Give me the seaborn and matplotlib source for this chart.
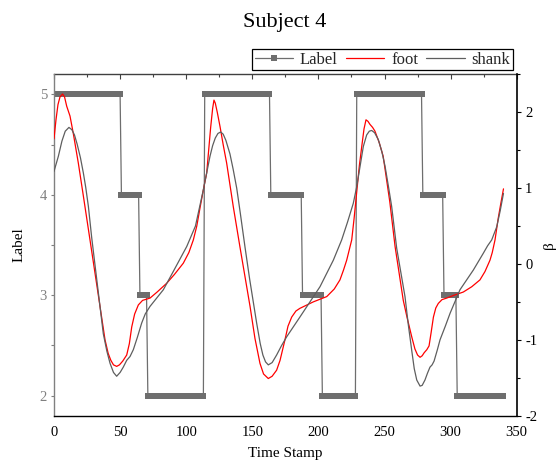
import numpy as np
import pandas as pd
import matplotlib
matplotlib.use("Agg")
import matplotlib.pyplot as plt
import seaborn as sns
from matplotlib.ticker import MultipleLocator

# ---- data ----
label_values = [5, 4, 3, 2, 5, 4, 3, 2, 5, 4, 3, 2]
label_starts = [0, 51, 65, 71, 114, 164, 188, 203, 229, 279, 295, 305]
label_ends = [50, 64, 70, 113, 163, 187, 202, 228, 278, 294, 304, 340]

foot_t = [0, 1.5, 3, 4.5, 6.5, 8, 9.6, 12.1, 14.6, 18.4, 22, 27.2, 33, 38.6, 41, 43, 45,
          47.4, 49.5, 52, 55, 57, 58.8, 61, 63.8, 67, 72.6, 78, 85.2, 91, 97.8, 102, 105.4,
          108, 110.4, 113, 115.5, 117, 118.5, 120, 121, 122, 123.5, 125.6, 128, 130.6,
          135.6, 140.7, 148.3, 152, 155.8, 158.5, 162.1, 165, 168.4, 171, 174.7, 177, 179.8,
          183, 186, 196.1, 206.3, 212, 216.3, 219, 221.4, 225.2, 227, 229, 231, 232.8, 234.5,
          236, 237.5, 239, 241, 242.8, 246, 249, 254, 258, 264.2, 267, 270.6, 273, 275,
          276.9, 278.5, 280, 282, 283.7, 285.3, 287, 288.8, 290.7, 293.5, 297, 303, 309.6,
          316, 322.2, 326, 329.8, 331.5, 333.6, 336, 338, 340]
foot_beta = [1.65, 1.9, 2.1, 2.2, 2.24, 2.2, 2.08, 1.95, 1.72, 1.33, 0.92, 0.32, -0.35,
             -1.0, -1.18, -1.27, -1.33, -1.35, -1.33, -1.28, -1.2, -1.05, -0.83, -0.66,
             -0.54, -0.48, -0.45, -0.37, -0.255, -0.14, 0.01, 0.15, 0.317, 0.5, 0.735, 0.98,
             1.2, 1.5, 1.8, 2.05, 2.16, 2.12, 2.0, 1.81, 1.57, 1.33, 0.757, 0.22, -0.56,
             -0.98, -1.31, -1.45, -1.51, -1.48, -1.40, -1.27, -1.0, -0.82, -0.70, -0.62,
             -0.585, -0.50, -0.43, -0.33, -0.21, -0.08, 0.05, 0.317, 0.6, 0.95, 1.3, 1.55,
             1.78, 1.90, 1.88, 1.84, 1.80, 1.75, 1.6, 1.42, 0.82, 0.23, -0.48, -0.7, -0.96,
             -1.12, -1.2, -1.23, -1.21, -1.17, -1.13, -1.08, -0.9, -0.70, -0.58, -0.52,
             -0.47, -0.45, -0.41, -0.37, -0.3, -0.21, -0.1, 0.05, 0.15, 0.317, 0.6, 0.8, 0.99]

shank_t = [0, 3.3, 6, 8.5, 11.3, 13.5, 15.5, 17.5, 20, 22.2, 24, 26, 28.5, 33, 37.3, 40,
           42.4, 45, 47.4, 50, 52.4, 55, 57.5, 60, 63, 66.3, 69, 72.6, 82.7, 90.2, 100.4,
           107, 113, 115.5, 118, 120, 122, 124, 126.1, 128, 130, 133.1, 135.5, 138.2, 141,
           144.5, 148, 153.3, 156, 158, 160, 162.1, 165, 168.4, 172, 176, 186, 193.6, 201.2,
           211.3, 217.6, 222, 226.4, 229, 234, 236.5, 238.5, 240.3, 242.5, 245.3, 248, 250.4,
           253, 255.4, 259.2, 265.5, 268, 270.6, 272.5, 274.4, 276.9, 278.5, 280.6, 282.5,
           284.4, 286, 287.5, 290, 292, 296, 299.6, 307.1, 317.2, 324.7, 328, 331.1, 334.9,
           337.5, 340]
shank_beta = [1.22, 1.42, 1.62, 1.75, 1.80, 1.77, 1.70, 1.58, 1.40, 1.20, 1.01, 0.76, 0.35,
              -0.3, -0.92, -1.15, -1.31, -1.43, -1.48, -1.43, -1.36, -1.27, -1.22, -1.13,
              -0.97, -0.78, -0.66, -0.56, -0.34, -0.10, 0.23, 0.5, 0.98, 1.2, 1.42, 1.56,
              1.66, 1.72, 1.74, 1.71, 1.63, 1.45, 1.25, 1.0, 0.66, 0.22, -0.2, -0.78, -1.05,
              -1.2, -1.29, -1.33, -1.3, -1.20, -1.08, -0.96, -0.70, -0.50, -0.30, 0.05,
              0.317, 0.55, 0.80, 1.02, 1.55, 1.7, 1.75, 1.76, 1.73, 1.64, 1.48, 1.29, 1.02,
              0.76, 0.21, -0.43, -0.8, -1.14, -1.38, -1.53, -1.61, -1.6, -1.53, -1.44, -1.36,
              -1.33, -1.28, -1.13, -1.0, -0.82, -0.65, -0.34, -0.08, 0.14, 0.24, 0.317, 0.49,
              0.7, 0.93]

# ---- style ----
sns.set_theme(style="white")
plt.rcParams["font.family"] = ["Liberation Serif", "DejaVu Serif"]
plt.rcParams["axes.unicode_minus"] = False

time = np.concatenate([np.arange(s, e + 1) for s, e in zip(label_starts, label_ends)])
labels = np.concatenate([np.full(e - s + 1, v) for s, e, v in
                         zip(label_starts, label_ends, label_values)])
df_label = pd.DataFrame({"t": time, "label": labels})
df_foot = pd.DataFrame({"t": foot_t, "beta": foot_beta})
df_shank = pd.DataFrame({"t": shank_t, "beta": shank_beta})

fig = plt.figure(figsize=(5.57, 4.68), dpi=100)
ax = fig.add_axes([54 / 557, 1 - 415.7 / 468, (516.7 - 54) / 557, (415.7 - 74.3) / 468])

sns.lineplot(data=df_label, x="t", y="label", ax=ax, color="#6e6e6e", linewidth=0.9,
             marker="s", markersize=4.4, markeredgewidth=0, label="Label", legend=False)

ax2 = ax.twinx()
sns.lineplot(data=df_foot, x="t", y="beta", ax=ax2, color="#ff0000", linewidth=0.9,
             label="foot", legend=False)
sns.lineplot(data=df_shank, x="t", y="beta", ax=ax2, color="#5e5e5e", linewidth=0.9,
             label="shank", legend=False)
for ln in ax2.get_lines():
    ln.set_solid_joinstyle("round")

ax.set_xlim(0, 350)
ax.set_ylim(1.8, 5.2)
ax2.set_ylim(-2, 2.5)

ax.xaxis.set_major_locator(MultipleLocator(50))
ax.xaxis.set_minor_locator(MultipleLocator(25))
ax.yaxis.set_major_locator(MultipleLocator(1))
ax.yaxis.set_minor_locator(MultipleLocator(0.5))
ax2.yaxis.set_major_locator(MultipleLocator(1))
ax2.yaxis.set_minor_locator(MultipleLocator(0.5))

ax.tick_params(axis="x", which="major", direction="out", length=4.3, width=0.8,
               color="black", labelsize=10.5, labelcolor="black", pad=3)
ax.tick_params(axis="x", which="minor", direction="out", length=2.2, width=0.8, color="black")
ax.tick_params(axis="y", which="major", direction="out", length=2.0, width=0.8,
               color="#808080", labelsize=10.5, labelcolor="#808080", pad=3)
ax.tick_params(axis="y", which="minor", direction="out", length=2.0, width=0.8, color="#808080")
ax2.tick_params(axis="y", which="major", direction="out", length=3.0, width=0.8,
                color="black", labelsize=10.5, labelcolor="black", pad=3)
ax2.tick_params(axis="y", which="minor", direction="out", length=2.0, width=0.8, color="black")

top = ax.secondary_xaxis("top")
top.xaxis.set_major_locator(MultipleLocator(50))
top.xaxis.set_minor_locator(MultipleLocator(25))
top.tick_params(axis="x", which="major", direction="in", length=3.6, width=0.8,
                color="#404040", labeltop=False)
top.tick_params(axis="x", which="minor", direction="in", length=2.2, width=0.8, color="#404040")
top.set_xticklabels([])
top.spines["top"].set_color("#404040")
top.spines["top"].set_linewidth(1.0)

for side in ["left", "top", "bottom"]:
    ax2.spines[side].set_visible(False)
ax.spines["right"].set_visible(False)
ax.spines["top"].set_visible(False)
ax.spines["left"].set_color("#808080")
ax.spines["left"].set_linewidth(1.0)
ax.spines["bottom"].set_color("black")
ax.spines["bottom"].set_linewidth(1.0)
ax2.spines["right"].set_color("black")
ax2.spines["right"].set_linewidth(1.2)

ax.set_xlabel("Time Stamp", fontsize=11, color="black", labelpad=6)
ax.set_ylabel("Label", fontsize=11, color="black", labelpad=10)
ax2.set_ylabel("β", fontsize=11, color="black", labelpad=4)

h1, l1 = ax.get_legend_handles_labels()
h2, l2 = ax2.get_legend_handles_labels()
leg = ax2.legend(h1 + h2, l1 + l2, loc="lower right", bbox_to_anchor=(1.0, 1.0), ncol=3,
                 frameon=True, fancybox=False, edgecolor="black", framealpha=1,
                 fontsize=12, borderaxespad=0.25, handlelength=2.3, columnspacing=0.5,
                 handletextpad=0.4, borderpad=0.15, numpoints=1, markerscale=1.0)
leg.get_frame().set_linewidth(0.9)

fig.text(0.512, 1 - 22 / 468, "Subject 4", ha="center", va="center", fontsize=16,
         color="black")

fig.savefig("out.png", dpi=100)
